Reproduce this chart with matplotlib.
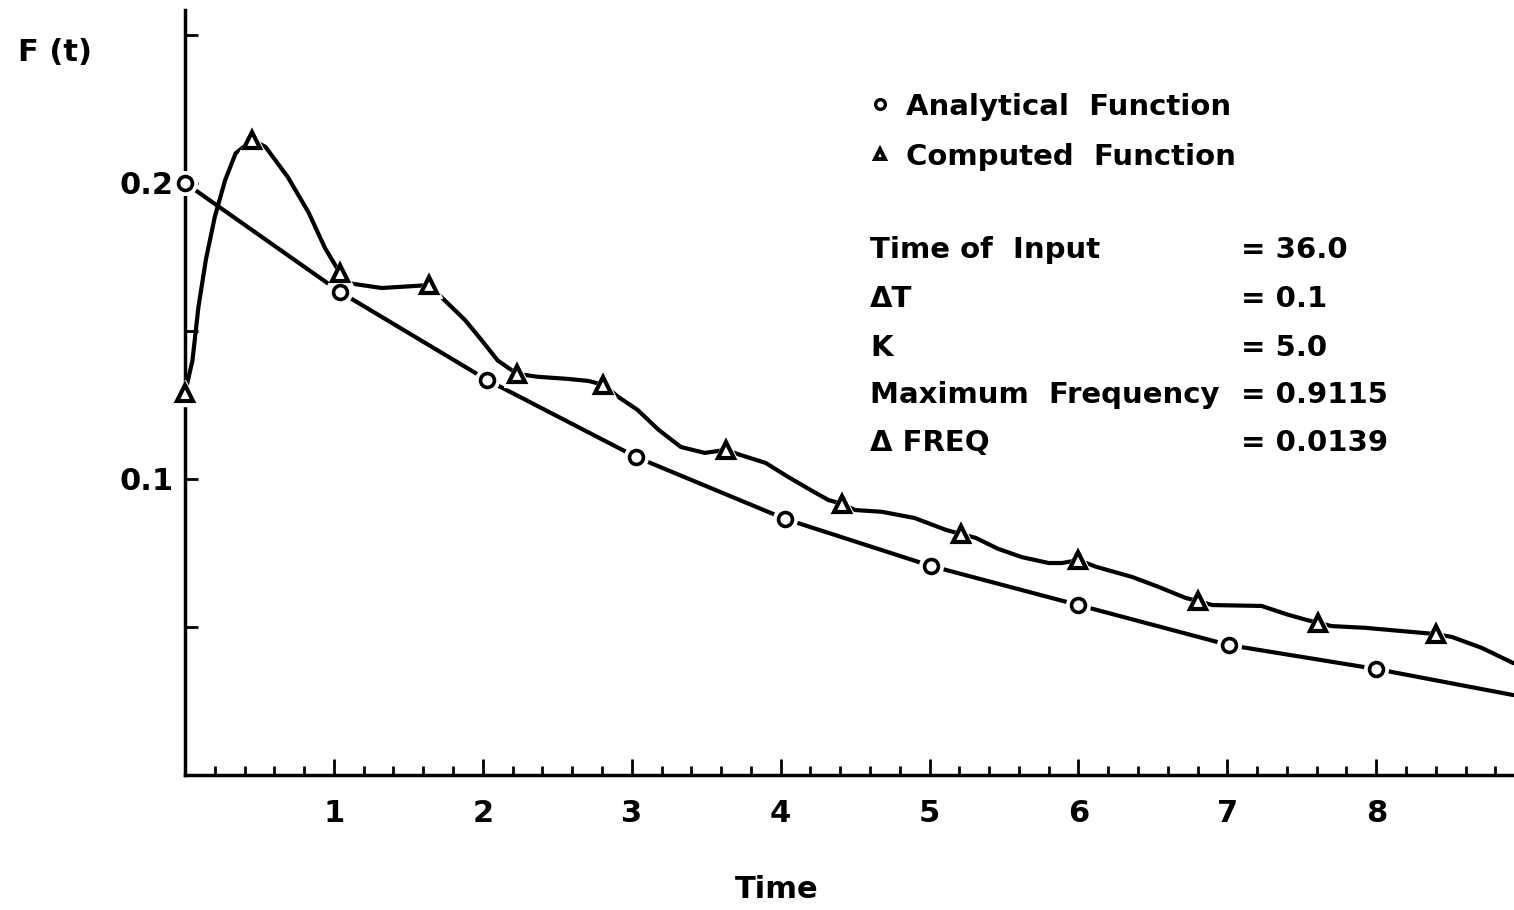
import matplotlib
matplotlib.use("Agg")
import matplotlib.pyplot as plt
from matplotlib.ticker import MultipleLocator, FixedLocator, FuncFormatter

# analytical function, circles
t_analytical = [0.0, 1.04, 2.03, 3.03, 4.03, 5.01, 6.00, 7.01, 8.00]
f_analytical = [0.200, 0.1632, 0.1334, 0.1074, 0.0865, 0.0706, 0.0574, 0.0439, 0.0358]
# line runs on past the last circle to the edge of the frame
t_analytical_line = t_analytical + [8.92]
f_analytical_line = f_analytical + [0.027]

# computed function, triangles
t_computed = [0.0, 0.45, 1.04, 1.64, 2.23, 2.81, 3.63, 4.41, 5.21, 6.00, 6.80, 7.61, 8.40]
f_computed = [0.129, 0.2145, 0.1696, 0.1655, 0.1355, 0.1318, 0.1098, 0.0916, 0.0814,
              0.0726, 0.0588, 0.0514, 0.0476]
# hand drawn curve through the triangles
t_computed_line = [0.0, 0.05, 0.09, 0.14, 0.20, 0.27, 0.34, 0.45, 0.54, 0.69, 0.83, 0.94, 1.04,
                   1.09, 1.32, 1.55, 1.64, 1.72, 1.88, 1.99, 2.10, 2.23, 2.37, 2.57, 2.71, 2.81,
                   2.91, 3.04, 3.18, 3.33, 3.49, 3.63, 3.73, 3.90, 4.05, 4.20, 4.32, 4.41, 4.50,
                   4.68, 4.90, 5.11, 5.21, 5.31, 5.46, 5.62, 5.80, 5.89, 6.00, 6.12, 6.36, 6.54,
                   6.72, 6.80, 6.90, 7.23, 7.41, 7.53, 7.61, 7.70, 7.93, 8.31, 8.40, 8.51, 8.71, 8.92]
f_computed_line = [0.129, 0.140, 0.158, 0.174, 0.1885, 0.201, 0.210, 0.2145, 0.2122, 0.202, 0.190,
                   0.178, 0.1696, 0.1662, 0.1645, 0.1652, 0.1655, 0.1615, 0.1537, 0.147, 0.140,
                   0.1355, 0.1345, 0.1338, 0.1331, 0.1318, 0.1277, 0.1233, 0.1166, 0.1108, 0.1088,
                   0.1098, 0.1081, 0.1054, 0.1007, 0.0963, 0.0929, 0.0916, 0.0895, 0.0889, 0.0868,
                   0.0828, 0.0814, 0.0801, 0.0764, 0.0736, 0.0716, 0.0716, 0.0726, 0.0703, 0.0669,
                   0.0635, 0.0598, 0.0588, 0.0574, 0.0571, 0.0541, 0.0524, 0.0514, 0.0503, 0.0497,
                   0.0480, 0.0476, 0.0466, 0.0429, 0.0378]

x_major = [1, 2, 3, 4, 5, 6, 7, 8]
y_labelled = [0.1, 0.2]

legend_items = ["Analytical  Function", "Computed  Function"]
param_names = ["Time of  Input", "\u0394T", "K", "Maximum  Frequency", "\u0394 FREQ"]
param_values = ["= 36.0", "= 0.1", "= 5.0", "= 0.9115", "= 0.0139"]

plt.rcParams["font.family"] = ["DejaVu Sans"]
plt.rcParams["font.weight"] = "bold"

W, H = 1514, 910
fig = plt.figure(figsize=(W / 100, H / 100), dpi=100)
ax = fig.add_axes([185 / W, 135 / H, 1329 / W, 765 / H])

ax.plot(t_analytical_line, f_analytical_line, color="black", lw=3.0, zorder=2,
        solid_capstyle="round", solid_joinstyle="round")
ax.plot(t_computed_line, f_computed_line, color="black", lw=3.0, zorder=2,
        solid_capstyle="round", solid_joinstyle="round")

# white halos give the little gaps where the pen stopped at each symbol
ax.plot(t_analytical, f_analytical, ls="none", marker="o", ms=17, mfc="white", mec="white",
        zorder=3, clip_on=False)
ax.plot(t_computed, f_computed, ls="none", marker="^", ms=19, mfc="white", mec="white",
        zorder=3, clip_on=False)
ax.plot(t_analytical, f_analytical, ls="none", marker="o", ms=10, mfc="white", mec="black",
        mew=2.6, zorder=4, clip_on=False)
ax.plot(t_computed, f_computed, ls="none", marker="^", ms=11, mfc="white", mec="black",
        mew=3.0, zorder=4, clip_on=False)

ax.set_xlim(0, 8.925)
ax.set_ylim(0, 0.2584)
for side in ["top", "right"]:
    ax.spines[side].set_visible(False)
for side in ["left", "bottom"]:
    ax.spines[side].set_linewidth(2.5)

ax.xaxis.set_major_locator(FixedLocator(x_major))
ax.xaxis.set_minor_locator(MultipleLocator(0.2))
ax.yaxis.set_major_locator(MultipleLocator(0.05))
ax.yaxis.set_major_formatter(FuncFormatter(
    lambda v, p: ("%.1f" % v) if any(abs(v - l) < 1e-6 for l in y_labelled) else ""))
ax.tick_params(axis="x", which="major", direction="in", length=11.5, width=2, pad=17,
               labelsize=22)
ax.tick_params(axis="x", which="minor", direction="in", length=6.5, width=2)
ax.tick_params(axis="y", which="major", direction="in", length=9, width=2, pad=8,
               labelsize=22)

ax.set_xlabel("Time", fontsize=22, fontweight="bold")
ax.xaxis.set_label_coords(592 / 1329, -100 / 765)
ax.set_ylabel("F (t)", fontsize=22, fontweight="bold", rotation=0, ha="left", va="baseline")
ax.yaxis.set_label_coords(-167 / 1329, 714 / 765)

def fx(px):
    return px / W

def fy(py):
    return 1 - py / H

# legend block
legend_rows = [115, 165]
ax.plot([fx(880)], [fy(104)], transform=fig.transFigure, marker="o", ms=7, mfc="white",
        mec="black", mew=2.4, clip_on=False)
ax.plot([fx(880)], [fy(154)], transform=fig.transFigure, marker="^", ms=7, mfc="white",
        mec="black", mew=2.8, clip_on=False)
for label, yb in zip(legend_items, legend_rows):
    fig.text(fx(906), fy(yb), label, fontsize=21, fontweight="bold", va="baseline", ha="left")

# run parameters
param_rows = [258, 307, 356, 403, 451]
for name, val, yb in zip(param_names, param_values, param_rows):
    fig.text(fx(870), fy(yb), name, fontsize=21, fontweight="bold", va="baseline", ha="left")
    fig.text(fx(1241), fy(yb), val, fontsize=21, fontweight="bold", va="baseline", ha="left")

fig.savefig("out.png", dpi=100)
